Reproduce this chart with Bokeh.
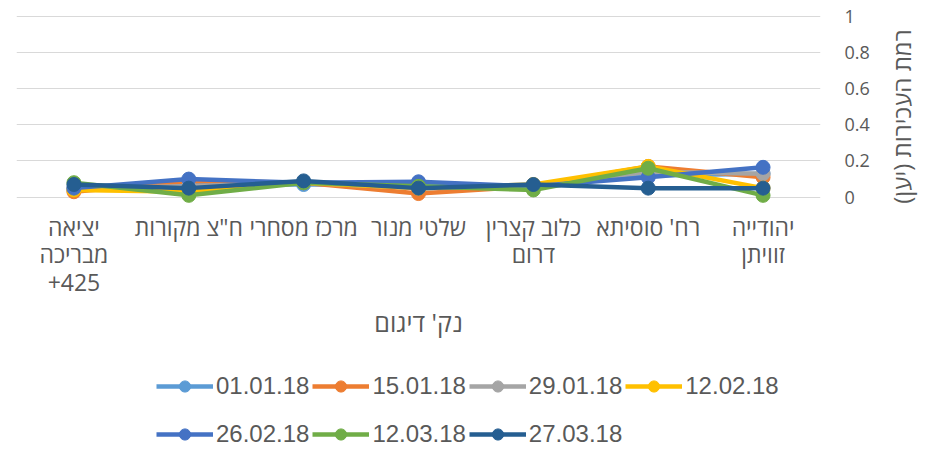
import math
from bokeh.plotting import figure
from bokeh.layouts import column, row
from bokeh.models import Range1d, FactorRange, Legend, LegendItem, FixedTicker, Label
from bokeh.embed import file_html
from bokeh.resources import INLINE

categories = ["יציאה\nמבריכה\n+425", 'ח"צ מקורות', "מרכז מסחרי", "שלטי מנור",
              "כלוב קצרין\nדרום", "רח' סוסיתא", "יהודייה\nזוויתן"]
dates = ["01.01.18", "15.01.18", "29.01.18", "12.02.18", "26.02.18", "12.03.18", "27.03.18"]
s_010118 = [0.04, 0.07, 0.07, 0.07, 0.06, 0.12, 0.13]
s_150118 = [0.03, 0.09, 0.08, 0.02, 0.06, 0.17, 0.11]
s_290118 = [0.05, 0.06, 0.08, 0.05, 0.06, 0.14, 0.13]
s_120218 = [0.04, 0.03, 0.08, 0.05, 0.07, 0.17, 0.05]
s_260218 = [0.05, 0.10, 0.08, 0.085, 0.06, 0.11, 0.165]
s_120318 = [0.08, 0.01, 0.08, 0.06, 0.04, 0.16, 0.01]
s_270318 = [0.07, 0.05, 0.09, 0.05, 0.07, 0.05, 0.05]
series = [s_010118, s_150118, s_290118, s_120218, s_260218, s_120318, s_270318]
colors = ["#5B9BD5", "#ED7D31", "#A5A5A5", "#FFC000", "#4472C4", "#70AD47", "#255E91"]
y_ticks = [0, 0.2, 0.4, 0.6, 0.8, 1]
y_title = "\u200fרמת העכירות (יען)\u200f"
x_title = "נק' דיגום"

TXT = "#595959"

# main chart
p = figure(width=880, height=350, x_range=FactorRange(*categories),
           y_range=Range1d(-0.035, 1.01), y_axis_location="right",
           output_backend="svg", toolbar_location=None,
           min_border_left=16, min_border_right=60, min_border_top=14, min_border_bottom=147)
p.outline_line_color = None
p.xgrid.grid_line_color = None
p.ygrid.grid_line_color = "#D9D9D9"
p.ygrid.grid_line_width = 1

p.yaxis.ticker = FixedTicker(ticks=y_ticks)
p.yaxis.major_label_overrides = {t: ("%g" % t) for t in y_ticks}
p.yaxis.axis_line_color = None
p.yaxis.major_tick_line_color = None
p.yaxis.minor_tick_line_color = None
p.yaxis.major_label_standoff = 18
p.yaxis.major_label_text_font = "Open Sans"
p.yaxis.major_label_text_font_size = "18px"
p.yaxis.major_label_text_color = TXT

p.xaxis.axis_line_color = None
p.xaxis.major_tick_line_color = None
p.xaxis.major_label_standoff = 1
p.xaxis.major_label_text_font = "Open Sans"
p.xaxis.major_label_text_font_size = "23px"
p.xaxis.major_label_text_line_height = 0.87
p.xaxis.major_label_text_color = TXT
p.xaxis.axis_label = x_title
p.xaxis.axis_label_text_font = "Open Sans"
p.xaxis.axis_label_text_font_size = "25px"
p.xaxis.axis_label_text_font_style = "normal"
p.xaxis.axis_label_text_color = TXT
p.xaxis.axis_label_standoff = 4

for vals, c in zip(series, colors):
    p.line(categories, vals, line_color=c, line_width=4.5)
    p.scatter(categories, vals, marker="circle", size=14, fill_color=c, line_color=c)

# y-axis title strip (reads bottom-to-top, as in the original)
tf = figure(width=61, height=350, output_backend="svg", toolbar_location=None,
            x_axis_type=None, y_axis_type=None,
            min_border_left=0, min_border_right=0, min_border_top=0, min_border_bottom=0)
tf.outline_line_color = None
tf.xgrid.grid_line_color = None
tf.ygrid.grid_line_color = None
tf.add_layout(Label(x=21, y=87, x_units="screen", y_units="screen", text=y_title,
                    angle=math.pi / 2, angle_units="rad", text_align="center",
                    text_baseline="middle", text_font="Open Sans", text_font_size="24px",
                    text_color=TXT))

# legend strip (same series, drawn off-view so only the legend shows)
lg = figure(width=941, height=118, x_range=FactorRange(*categories), y_range=Range1d(10, 11),
            output_backend="svg", toolbar_location=None, x_axis_type=None, y_axis_type=None,
            min_border_left=0, min_border_right=0, min_border_top=0, min_border_bottom=0)
lg.outline_line_color = None
lg.xgrid.grid_line_color = None
lg.ygrid.grid_line_color = None
items = []
for name, vals, c in zip(dates, series, colors):
    l = lg.line(categories, vals, line_color=c, line_width=4.5)
    s = lg.scatter(categories, vals, marker="circle", size=14, fill_color=c, line_color=c)
    items.append(LegendItem(label=name, renderers=[l, s]))

def make_legend(its, loc):
    return Legend(items=its, orientation="horizontal", location=loc,
                  glyph_width=57, glyph_height=28, label_height=28, label_standoff=3, spacing=3,
                  padding=0, margin=0, border_line_color=None, background_fill_alpha=0,
                  label_text_font="Liberation Sans", label_text_font_size="24px",
                  label_text_color=TXT)

lg.add_layout(make_legend(items[:4], (156, 68)))
lg.add_layout(make_legend(items[4:], (156, 20)))

open("out.html", "w").write(file_html(column(row(p, tf, spacing=0), lg, spacing=0), INLINE))
